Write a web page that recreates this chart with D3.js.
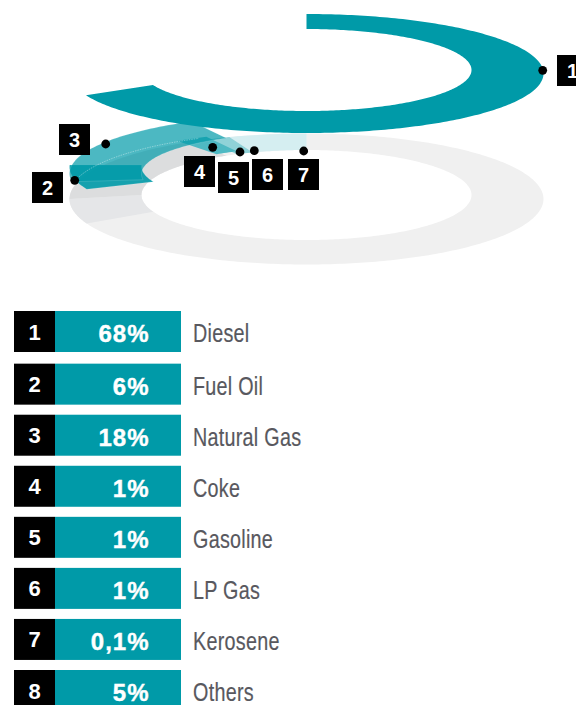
<!DOCTYPE html>
<html><head><meta charset="utf-8">
<script src="https://cdn.jsdelivr.net/npm/d3@7"></script>
<style>
html,body{margin:0;padding:0;background:#fff;overflow:hidden;width:576px;height:705px}
svg{display:block}
</style></head>
<body><svg id="c" width="576" height="705"></svg>
<script>
// ---- data ----
const ranks = ["1","2","3","4","5","6","7","8"];
const fuels = ["Diesel","Fuel Oil","Natural Gas","Coke","Gasoline","LP Gas","Kerosene","Others"];
const shareLabels = ["68%","6%","18%","1%","1%","1%","0,1%","5%"];
// drawn sweep of each segment, degrees clockwise from 12 o'clock
const segmentStart = [0, 248, 262, 327, 335, 341];
const segmentEnd   = [248.5, 272, 331, 335, 341, 360];
const segmentFill  = ["#009aa8","#009aa8","#009aa8","#4fb9c3","#90d2d8","#d5eef1"];
const segmentAlpha = [1, 0.9, 0.7, 1, 1, 1];
const segmentOuterLift = [125.5, 32, 25.5, 3, 0, 0];
const segmentInnerLift = [125.5, 29, 21.5, 3, 0, 0];
const segmentOrder = [5,4,3,1,2,0];
const shadowStart = [248, 270];
const shadowEnd   = [270, 331];
const shadowFill  = ["#e5e6e8","#dcddde"];
// call-out anchors and their boxes
const dotX = [542.7,74.7,105.7,212.7,240,254.3,303.7];
const dotY = [70.3,180.3,144,147.3,152,150.7,151];
const boxX = [557,32,59,184,218,252,288];
const boxY = [55,172,124,156,162,159,159];

// ---- layout ----
const svg = d3.select("#c");
const TEAL = "#009aa8";
const cx = 306.5;
const base = {outerRx:237, outerRy:65.5, outerCy:199, innerRx:165, innerRy:45, innerCy:195};
const lifted = {outerRx:237, outerRy:59.5, outerCy:199, innerRx:165, innerRy:41, innerCy:195.5};
const angle = d3.scaleLinear().domain([0,360]).range([0,2*Math.PI]);
const line = d3.line();

function pt(deg, rx, ry, cy){
  const a = angle(deg);
  return [cx + rx*Math.sin(a), cy - ry*Math.cos(a)];
}
function arcPts(a0, a1, rx, ry, cy){
  const n = Math.max(2, Math.ceil(Math.abs(a1-a0)));
  return d3.range(n+1).map(i => pt(a0+(a1-a0)*i/n, rx, ry, cy));
}
function ringPath(a0, a1, e, liftO, liftI){
  liftO = liftO||0; liftI = liftI||0;
  return line(arcPts(a0,a1,e.outerRx,e.outerRy,e.outerCy-liftO)
    .concat(arcPts(a1,a0,e.innerRx,e.innerRy,e.innerCy-liftI))) + "Z";
}
// base ring
svg.append("path")
  .attr("fill","#f0f0f0").attr("fill-rule","evenodd")
  .attr("d", line(arcPts(0,360,base.outerRx,base.outerRy,base.outerCy))+"Z"+
             line(arcPts(0,360,base.innerRx,base.innerRy,base.innerCy))+"Z");
// shadows on base
svg.selectAll("path.shadow").data(shadowStart).join("path").attr("class","shadow")
  .attr("fill",(d,i)=>shadowFill[i])
  .attr("d",(d,i)=>ringPath(d,shadowEnd[i],base));
// segments
segmentOrder.forEach(i=>{
  const e = i>=3 ? base : lifted;
  svg.append("path")
    .attr("fill",segmentFill[i]).attr("fill-opacity",segmentAlpha[i])
    .attr("stroke", i===1||i===2 ? "#fff":"none").attr("stroke-opacity",0.18).attr("stroke-width",0.8)
    .attr("d",ringPath(segmentStart[i],segmentEnd[i],e,segmentOuterLift[i],segmentInnerLift[i]));
});
// faint outline of the base ring seen through the lifted segments
svg.append("path").attr("fill","none").attr("stroke","#fff").attr("stroke-opacity",0.45)
  .attr("stroke-width",0.8).attr("stroke-dasharray","1.5 1")
  .attr("d",line(arcPts(268,333,base.outerRx,63,194.5)));

// call-outs
svg.selectAll("circle.dot").data(dotX).join("circle").attr("class","dot")
  .attr("cx",d=>d).attr("cy",(d,i)=>dotY[i]).attr("r",4.4).attr("fill","#000");
const cal = svg.selectAll("g.cal").data(boxX).join("g").attr("class","cal")
  .attr("transform",(d,i)=>`translate(${d},${boxY[i]})`);
cal.append("rect").attr("width",31).attr("height",31).attr("fill","#000");
cal.append("text").text((d,i)=>ranks[i]).attr("x",15.5).attr("y",23)
  .attr("text-anchor","middle").attr("fill","#fff")
  .style("font","bold 20px 'Liberation Sans',sans-serif");

// legend table
const rowY = d3.scalePoint().domain(ranks).range([312.6,670]);
const rows = svg.selectAll("g.row").data(ranks).join("g").attr("class","row")
  .attr("transform",(d,i)=>`translate(0,${rowY(d)-(i===0?1.6:0)})`);
rows.append("rect").attr("x",14).attr("width",41).attr("height",41).attr("fill","#000");
rows.append("rect").attr("x",55).attr("width",126).attr("height",41).attr("fill",TEAL);
rows.append("text").text(d=>d).attr("x",34.5).attr("y",28.5)
  .attr("text-anchor","middle").attr("fill","#fff")
  .style("font","bold 22px 'Liberation Sans',sans-serif");
rows.append("text").text((d,i)=>shareLabels[i]).attr("x",149.5).attr("y",31)
  .attr("text-anchor","end").attr("fill","#fff").attr("stroke","#fff").attr("stroke-width",0.4)
  .style("font","bold 24px 'Liberation Sans',sans-serif").style("letter-spacing","1px");
rows.append("text").text((d,i)=>fuels[i])
  .attr("transform","translate(193,31) scale(0.76,1)")
  .attr("fill","#58585e").attr("stroke","#58585e").attr("stroke-width",0.2)
  .style("font","26px 'Liberation Sans',sans-serif").style("letter-spacing","0.35px");
</script></body></html>
